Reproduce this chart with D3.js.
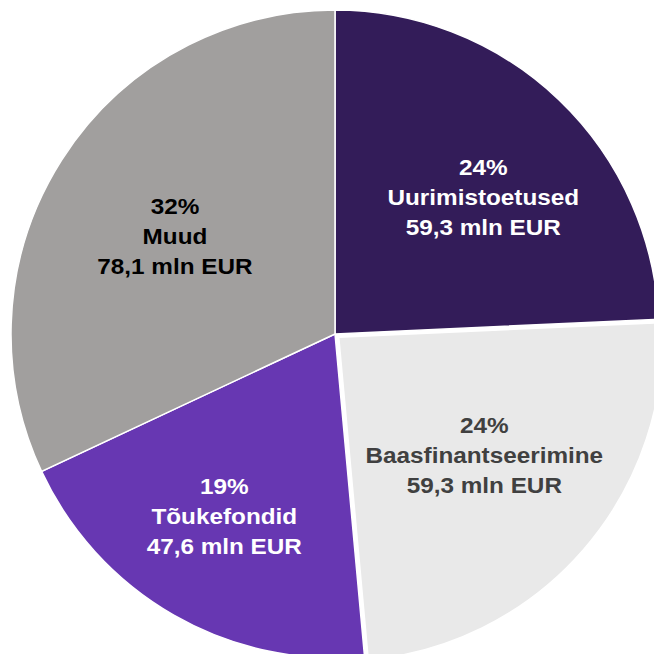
<!DOCTYPE html>
<html>
<head>
<meta charset="utf-8">
<script src="https://cdn.jsdelivr.net/npm/d3@7"></script>
<style>
  html, body { margin: 0; padding: 0; background: #fff; overflow: hidden; }
  svg { display: block; }
</style>
</head>
<body>
<div id="chart"></div>
<script>
// data
const names = ["Uurimistoetused", "Baasfinantseerimine", "Tõukefondid", "Muud"];
const amounts = [59.3, 59.3, 47.6, 78.1];           // mln EUR
const percents = ["24%", "24%", "19%", "32%"];
const amountLabels = ["59,3 mln EUR", "59,3 mln EUR", "47,6 mln EUR", "78,1 mln EUR"];

// styling
const sliceColors = ["#331c59", "#e9e9e9", "#6737b2", "#a19f9e"];
const textColors = ["#ffffff", "#404040", "#ffffff", "#000000"];
const exploded = [false, true, false, false];
// small hand nudges for label placement (px), like the original's best-fit labels
const labelNudge = [[14, 4], [-1, -10], [-14, 13], [4, 6]];

const width = 654, height = 654;
const cx = 335, cy = 334, radius = 324;

const svg = d3.select("#chart")
  .append("svg")
  .attr("width", width)
  .attr("height", height)
  .append("g")
  .attr("transform", `translate(${cx},${cy})`);

const pie = d3.pie().sort(null).value(d => d.value);
const data = pie(names.map((n, i) => ({ name: n, value: amounts[i], i })));

const arc = d3.arc().innerRadius(0).outerRadius(radius);
const labelArc = d3.arc().innerRadius(radius * 0.6).outerRadius(radius * 0.6);

// offset of an exploded slice along its middle angle
function offset(d, dist) {
  const a = (d.startAngle + d.endAngle) / 2;
  return [Math.sin(a) * dist, -Math.cos(a) * dist];
}

const slices = svg.selectAll("g.slice")
  .data(data)
  .join("g")
  .attr("class", "slice")
  .attr("transform", d => {
    const [dx, dy] = exploded[d.data.i] ? offset(d, 5) : [0, 0];
    return `translate(${dx},${dy})`;
  });

slices.append("path")
  .attr("d", arc)
  .attr("fill", d => sliceColors[d.data.i])
  .attr("stroke", "#ffffff")
  .attr("stroke-width", 1.5);

// labels: three lines, centred on the slice centroid
const lineGap = 30;
slices.each(function(d) {
  const [lx, ly] = labelArc.centroid(d);
  const i = d.data.i;
  const [nx, ny] = labelNudge[i];
  const lines = [percents[i], names[i], amountLabels[i]];
  const t = d3.select(this).append("text")
    .attr("transform", `translate(${lx + nx},${ly + 8 + ny}) scale(1.09,1)`)
    .attr("text-anchor", "middle")
    .attr("font-family", "Liberation Sans, Arial, sans-serif")
    .attr("font-weight", "bold")
    .attr("font-size", "22.3px")
    .attr("fill", textColors[i]);
  lines.forEach((s, k) => {
    t.append("tspan")
      .attr("x", 0)
      .attr("y", (k - 1) * lineGap)
      .text(s);
  });
});
</script>
</body>
</html>
